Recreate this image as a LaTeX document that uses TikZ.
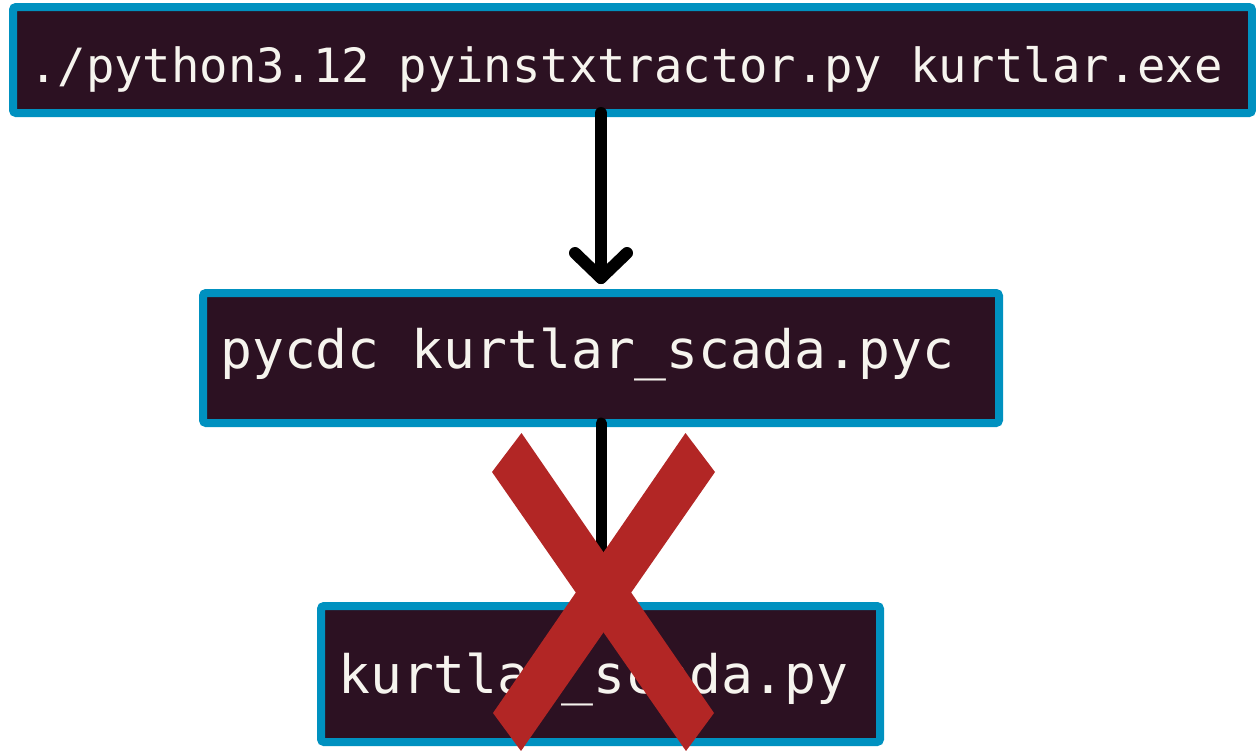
\documentclass[tikz,border=0pt]{standalone}
\usepackage{fontspec}
\setmonofont{DejaVu Sans Mono}
\usetikzlibrary{calc}
\definecolor{termbg}{RGB}{44,17,34}
\definecolor{termframe}{RGB}{0,145,192}
\definecolor{termtext}{RGB}{246,244,238}
\definecolor{crossred}{RGB}{178,38,37}
\tikzset{
  termbox/.style={draw=termframe, line width=8pt, fill=termbg,
    rounded corners=3pt, inner sep=0pt, outer sep=0pt},
  cmdsmall/.style={anchor=base west, inner sep=0pt, text=termtext,
    font=\ttfamily\fontsize{47.2}{52}\selectfont},
  cmdlarge/.style={anchor=base west, inner sep=0pt, text=termtext,
    font=\ttfamily\fontsize{53}{58}\selectfont},
  conn/.style={line width=12pt, line cap=round, line join=round, black},
}
\begin{document}
\begin{tikzpicture}[x=1pt,y=-1pt]
\useasboundingbox (0,0) rectangle (1256,750);

% terminal command boxes
\node[termbox, minimum width=1239pt, minimum height=106pt] (b1) at (632.5,60) {};
\node[termbox, minimum width=796pt, minimum height=130pt] (b2) at (601,358) {};
\node[termbox, minimum width=559pt, minimum height=136pt] (b3) at (600.5,674) {};

\node[cmdsmall] (t1) at (29,82) {./python3.12 pyinstxtractor.py kurtlar.exe};
\node[cmdlarge] (t2) at (220,368) {pycdc kurtlar\_scada.pyc};
\node[cmdlarge] (t3) at (338,693) {kurtlar\_scada.py};

% working step: arrow from the first command to the second
\coordinate (tip) at ($(b2.north)+(0,-15)$);
\draw[conn] (b2.north |- b1.south) -- (tip);
\draw[conn] ($(tip)+(-26,-25)$) -- (tip) -- ($(tip)+(26,-25)$);

% failed step: stub line struck out by a red cross
\coordinate (stubend) at ($(b2.south)+(0,130)$);
\draw[line width=11pt, line cap=round, black] (b2.south) -- (stubend);
\fill[crossred] (521.5,433) -- (714,713) -- (686,751) -- (492,472) -- cycle;
\fill[crossred] (685.5,433) -- (715,472) -- (521,751) -- (493,713) -- cycle;
\end{tikzpicture}
\end{document}
